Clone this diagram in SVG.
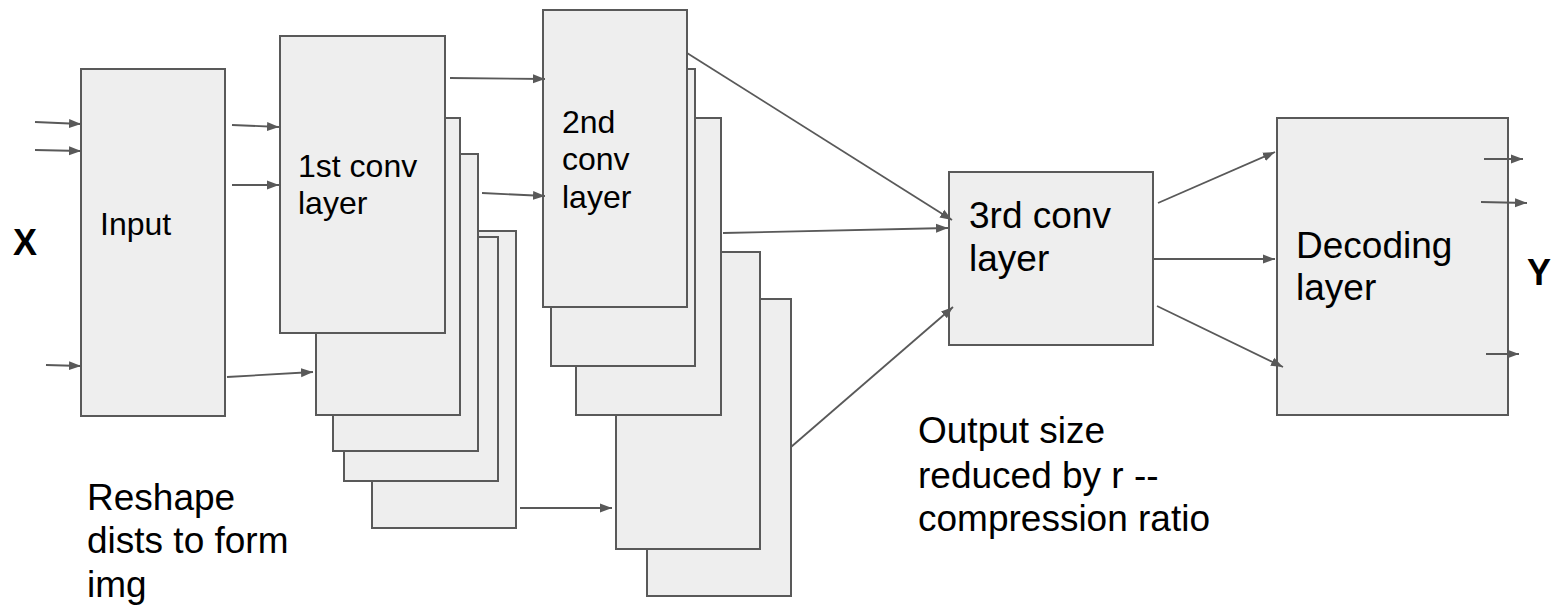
<svg xmlns="http://www.w3.org/2000/svg" width="1551" height="605" viewBox="0 0 1551 605">
<style>
.box{fill:#eeeeee;stroke:#595959;stroke-width:2}
.t{font-family:"Liberation Sans",Arial,sans-serif;fill:#000}
.s32{font-size:32px}
.s37{font-size:37px}
.b{font-size:36px;font-weight:bold}
.c{stroke:#595959;stroke-width:1.8;fill:none;marker-end:url(#ah)}
</style>
<defs>
<marker id="ah" markerWidth="13" markerHeight="10" refX="12" refY="5" orient="auto" markerUnits="userSpaceOnUse">
<path d="M0,0.5 L12,5 L0,9.5 z" fill="#595959"/>
</marker>
</defs>
<rect width="1551" height="605" fill="#ffffff"/>
<g id="label-x"><text class="t b" x="13" y="255">X</text></g>
<g id="label-y"><text class="t b" x="1527" y="285">Y</text></g>
<g id="input">
<rect class="box" x="81" y="69" width="144" height="347"/>
<text class="t s32" x="100" y="235">Input</text>
</g>
<g id="conv1">
<rect class="box" x="372" y="231" width="144" height="297"/>
<rect class="box" x="344" y="237" width="154" height="244"/>
<rect class="box" x="333" y="154" width="145" height="297"/>
<rect class="box" x="316" y="118" width="144" height="297"/>
<rect class="box" x="280" y="36" width="165" height="297"/>
<text class="t s32" x="298" y="177">1st conv</text>
<text class="t s32" x="298" y="214">layer</text>
</g>
<g id="conv2">
<rect class="box" x="647" y="299" width="144" height="297"/>
<rect class="box" x="616" y="252" width="144" height="297"/>
<rect class="box" x="576" y="118" width="145" height="297"/>
<rect class="box" x="551" y="69" width="144" height="297"/>
<rect class="box" x="543" y="10" width="144" height="297"/>
<text class="t s32" x="562" y="133">2nd</text>
<text class="t s32" x="562" y="170">conv</text>
<text class="t s32" x="562" y="208">layer</text>
</g>
<g id="conv3">
<rect class="box" x="949" y="172" width="204" height="173"/>
<text class="t s37" x="969" y="228">3rd conv</text>
<text class="t s37" x="969" y="271">layer</text>
</g>
<g id="decoding">
<rect class="box" x="1277" y="118" width="231" height="297"/>
<text class="t s37" x="1296" y="258">Decoding</text>
<text class="t s37" x="1296" y="300">layer</text>
</g>
<g id="note-output">
<text class="t s37" x="918" y="443">Output size</text>
<text class="t s37" x="918" y="488">reduced by r --</text>
<text class="t s37" x="918" y="531">compression ratio</text>
</g>
<g id="note-reshape">
<text class="t s37" x="87" y="510">Reshape</text>
<text class="t s37" x="87" y="553">dists to form</text>
<text class="t s37" x="87" y="597">img</text>
</g>
<g id="connectors">
<line class="c" x1="35" y1="122" x2="81" y2="124"/>
<line class="c" x1="35" y1="150" x2="81" y2="151"/>
<line class="c" x1="46" y1="365" x2="81" y2="366"/>
<line class="c" x1="232" y1="125" x2="279" y2="127"/>
<line class="c" x1="232" y1="185" x2="279" y2="185"/>
<line class="c" x1="227" y1="377" x2="313" y2="372"/>
<line class="c" x1="450" y1="78" x2="545" y2="79"/>
<line class="c" x1="482" y1="193" x2="545" y2="196"/>
<line class="c" x1="520" y1="508" x2="612" y2="508"/>
<line class="c" x1="687" y1="53" x2="952" y2="220"/>
<line class="c" x1="723" y1="233" x2="948" y2="228"/>
<line class="c" x1="791" y1="447" x2="953" y2="307"/>
<line class="c" x1="1158" y1="203" x2="1275" y2="152"/>
<line class="c" x1="1153" y1="259" x2="1275" y2="259"/>
<line class="c" x1="1157" y1="306" x2="1283" y2="367"/>
<line class="c" x1="1484" y1="159" x2="1523" y2="159"/>
<line class="c" x1="1481" y1="202" x2="1527" y2="203"/>
<line class="c" x1="1486" y1="354" x2="1519" y2="354"/>
</g>
</svg>
